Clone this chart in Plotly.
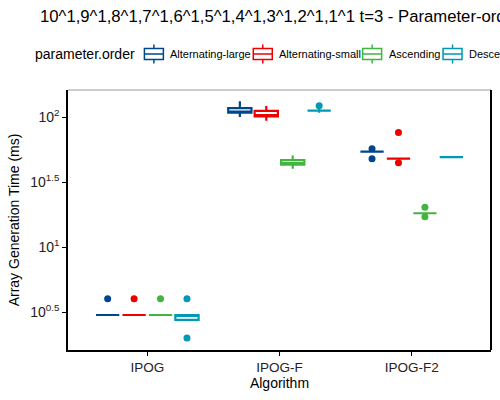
import plotly.graph_objects as go

# Datos (ms)
algorithms = ["IPOG", "IPOG-F", "IPOG-F2"]
orders = ["Alternating-large", "Alternating-small", "Ascending", "Descending"]
colors = ["#00468B", "#ED0000", "#42B540", "#0099B4"]

# estadisticos por orden (filas) y algoritmo (columnas)
lower_whisker = [[3, 100.0, 54.1], [3, 93.6, 47.8], [3, 40.0, 18.2], [2.75, 108.0, 49.2]]
q1 = [[3, 108.3, 54.1], [3, 101.2, 47.8], [3, 43.1, 18.2], [2.75, 111.9, 49.2]]
median = [[3, 110.2, 54.1], [3, 103.6, 47.8], [3, 44.3, 18.2], [3, 111.9, 49.2]]
q3 = [[3, 117.3, 54.1], [3, 111.6, 47.8], [3, 46.6, 18.2], [3, 111.9, 49.2]]
upper_whisker = [[3, 132.0, 54.1], [3, 121.5, 47.8], [3, 50.7, 18.2], [3, 116.6, 49.2]]
outliers = [
    [[4], [], [57.0, 47.8]],
    [[4], [], [76.2, 44.6]],
    [[4], [], [20.2, 17.1]],
    [[4, 2], [122.2], []],
]

y_tickvals = [10 ** 0.5, 10, 10 ** 1.5, 100]
y_ticktext = ["10<sup>0.5</sup>", "10<sup>1</sup>", "10<sup>1.5</sup>", "10<sup>2</sup>"]

title = "10^1,9^1,8^1,7^1,6^1,5^1,4^1,3^1,2^1,1^1 t=3 - Parameter-order"
font = "Liberation Sans, Arial, sans-serif"

# Geometria del panel (px)
W, H = 500, 400
L, R, T, B = 68, 8.5, 90, 50
dodge = 0.2
box_w = 0.176


def px_x(p):
    return (p - L) / (W - L - R)


def px_y(p):
    return (H - B - p) / (H - T - B)


fig = go.Figure()

for i, order in enumerate(orders):
    xs = [j + (i - 1.5) * dodge for j in range(len(algorithms))]
    fig.add_trace(go.Box(
        x=xs,
        q1=q1[i], median=median[i], q3=q3[i],
        lowerfence=lower_whisker[i], upperfence=upper_whisker[i],
        width=box_w,
        whiskerwidth=0,
        boxpoints=False,
        fillcolor="white",
        line=dict(color=colors[i], width=2.2),
        name=order,
        showlegend=False,
    ))
    ox, oy = [], []
    for j, vals in enumerate(outliers[i]):
        for v in vals:
            ox.append(xs[j])
            oy.append(v)
    fig.add_trace(go.Scatter(
        x=ox, y=oy, mode="markers",
        marker=dict(color=colors[i], size=7),
        showlegend=False, hoverinfo="skip",
    ))

# Bordes del panel
shapes = [
    dict(type="line", xref="paper", yref="paper", x0=0, x1=1, y0=1, y1=1,
         line=dict(color="#999999", width=1)),
    dict(type="line", xref="paper", yref="paper", x0=1, x1=1, y0=0, y1=1,
         line=dict(color="black", width=2)),
]

# Leyenda manual (horizontal, estilo ggplot)
legend_x = [144.5, 253.5, 363, 443.5]
key_w = 19
annotations = [dict(
    text="parameter.order", xref="paper", yref="paper",
    x=px_x(33), y=px_y(54), xanchor="left", yanchor="middle",
    showarrow=False, font=dict(size=14, color="black", family=font),
)]
for i, order in enumerate(orders):
    s = legend_x[i]
    c = s + key_w / 2
    ln = dict(color=colors[i], width=1.5)
    shapes += [
        dict(type="rect", xref="paper", yref="paper", x0=px_x(s), x1=px_x(s + key_w),
             y0=px_y(48.5), y1=px_y(59.5), line=ln, fillcolor="white"),
        dict(type="line", xref="paper", yref="paper", x0=px_x(s), x1=px_x(s + key_w),
             y0=px_y(54), y1=px_y(54), line=ln),
        dict(type="line", xref="paper", yref="paper", x0=px_x(c), x1=px_x(c),
             y0=px_y(44.5), y1=px_y(48.5), line=ln),
        dict(type="line", xref="paper", yref="paper", x0=px_x(c), x1=px_x(c),
             y0=px_y(59.5), y1=px_y(63.5), line=ln),
    ]
    annotations.append(dict(
        text=order, xref="paper", yref="paper",
        x=px_x(s + 24), y=px_y(54), xanchor="left", yanchor="middle",
        showarrow=False, font=dict(size=11, color="black", family=font),
    ))

fig.update_layout(
    width=W, height=H,
    margin=dict(l=L, r=R, t=T, b=B),
    title=dict(text=title, x=40 / W, xanchor="left", xref="container",
               y=1 - 16 / H, yanchor="middle",
               font=dict(size=16.7, color="black", family=font)),
    font=dict(family=font, size=13, color="#222222"),
    plot_bgcolor="white",
    paper_bgcolor="white",
    showlegend=False,
    shapes=shapes,
    annotations=annotations,
    xaxis=dict(
        range=[-0.6, 2.6],
        automargin=False,
        tickvals=list(range(len(algorithms))),
        ticktext=algorithms,
        showgrid=False, zeroline=False,
        showline=True, linecolor="black", linewidth=2,
        ticks="outside", ticklen=4, tickcolor="black",
        tickfont=dict(size=13.5, color="#222222"),
        title=dict(text="Algorithm", font=dict(size=14, color="black"), standoff=2),
    ),
    yaxis=dict(
        type="log",
        automargin=False,
        range=[0.208, 2.208],
        tickvals=y_tickvals,
        ticktext=y_ticktext,
        showgrid=False, zeroline=False,
        showline=True, linecolor="black", linewidth=1.5,
        ticks="outside", ticklen=4, tickcolor="black",
        tickfont=dict(size=14, color="#222222"),
        title=dict(text="Array Generation Time (ms)", font=dict(size=14, color="black"), standoff=7),
    ),
)

# quitar el margen del body para que la figura empiece en (0, 0)
fig.write_html("out.html", config={"displayModeBar": False},
               post_script="document.body.style.margin='0';")
